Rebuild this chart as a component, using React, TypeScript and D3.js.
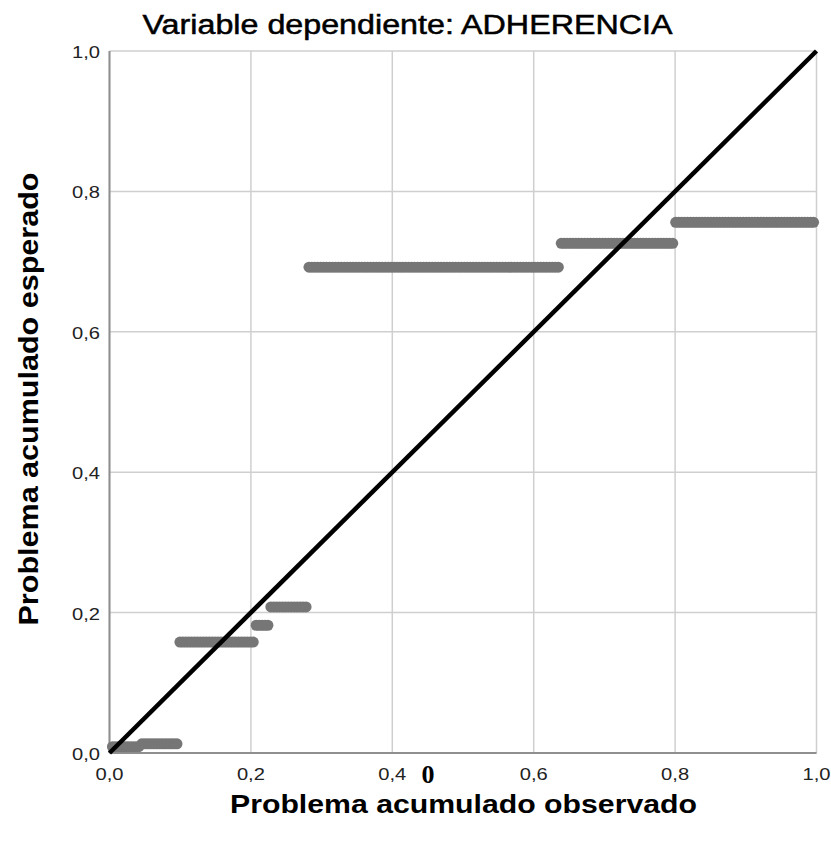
import React from "react";
import * as d3 from "d3";

// P-P plot data: each step = cases sharing one expected cumulative probability
const stepExpected = [0.009, 0.013, 0.158, 0.182, 0.208, 0.692, 0.726, 0.756];
const stepCounts = [10, 13, 26, 5, 13, 86, 39, 48];
const xTicks = [0, 0.2, 0.4, 0.6, 0.8, 1.0];
const yTicks = [0, 0.2, 0.4, 0.6, 0.8, 1.0];
const titleText = "Variable dependiente: ADHERENCIA";
const xTitle = "Problema acumulado observado";
const yTitle = "Problema acumulado esperado";

const W = 831;
const H = 843;
const fmt = (v: number) => v.toFixed(1).replace(".", ",");

export default function App() {
  const x = d3.scaleLinear().domain([0, 1]).range([109.5, 816.5]);
  const y = d3.scaleLinear().domain([0, 1]).range([753, 51]);

  const total = d3.sum(stepCounts);
  const points: { o: number; e: number }[] = [];
  let rank = 0;
  stepCounts.forEach((c, gi) => {
    for (let k = 0; k < c; k++) {
      rank += 1;
      points.push({ o: rank / (total + 1), e: stepExpected[gi] });
    }
  });

  const diag = d3.line<[number, number]>().x((d) => x(d[0])).y((d) => y(d[1]));
  const font = "'Liberation Sans', Arial, sans-serif";

  return (
    <svg
      width={W}
      height={H}
      style={{ position: "absolute", left: 0, top: 0, background: "#fff" }}
      fontFamily={font}
    >
      <rect x={0} y={0} width={W} height={H} fill="#fff" />
      {/* grid */}
      {xTicks.map((t) => (
        <line key={"gx" + t} x1={x(t)} x2={x(t)} y1={y(0)} y2={y(1)} stroke="#cfcfcf" strokeWidth={1.5} />
      ))}
      {yTicks.map((t) => (
        <line key={"gy" + t} x1={x(0)} x2={x(1)} y1={y(t)} y2={y(t)} stroke="#cfcfcf" strokeWidth={1.5} />
      ))}
      {/* axes */}
      <line x1={x(0)} x2={x(0)} y1={y(0)} y2={y(1)} stroke="#8f8f8f" strokeWidth={2} />
      <line x1={x(0)} x2={x(1)} y1={y(0)} y2={y(0)} stroke="#8f8f8f" strokeWidth={2} />
      {/* points */}
      {points.map((p, i) => (
        <circle key={i} cx={x(p.o)} cy={y(p.e)} r={5.5} fill="#767676" />
      ))}
      {/* diagonal */}
      <path d={diag([[0, 0], [1, 1]]) || ""} stroke="#000" strokeWidth={4.5} fill="none" />
      {/* tick labels */}
      {xTicks.map((t) => (
        <text key={"tx" + t} x={x(t)} y={780} fontSize={17} textAnchor="middle" fill="#222"
          textLength={28} lengthAdjust="spacingAndGlyphs">
          {fmt(t)}
        </text>
      ))}
      {yTicks.map((t) => (
        <text key={"ty" + t} x={100} y={y(t) + 7} fontSize={17} textAnchor="end" fill="#222"
          textLength={28} lengthAdjust="spacingAndGlyphs">
          {fmt(t)}
        </text>
      ))}
      {/* title */}
      <text x={407.5} y={34} fontSize={27} textAnchor="middle" fill="#000" stroke="#000" strokeWidth={0.5}
        textLength={530} lengthAdjust="spacingAndGlyphs">
        {titleText}
      </text>
      {/* axis titles */}
      <text x={463.5} y={813} fontSize={26.5} fontWeight="bold" textAnchor="middle" fill="#000"
        textLength={467} lengthAdjust="spacingAndGlyphs">
        {xTitle}
      </text>
      <text transform={`translate(38,399) rotate(-90)`} fontSize={27} fontWeight="bold" textAnchor="middle" fill="#000"
        textLength={453} lengthAdjust="spacingAndGlyphs">
        {yTitle}
      </text>
      {/* stray label */}
      <text x={428} y={783} fontSize={26} fontWeight="bold" textAnchor="middle" fill="#000"
        fontFamily="'Liberation Serif', 'Times New Roman', serif">
        0
      </text>
    </svg>
  );
}
